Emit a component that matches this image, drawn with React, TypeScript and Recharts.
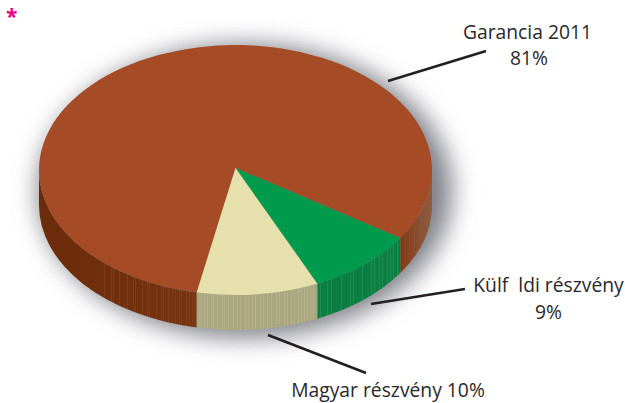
import { PieChart, Pie, Cell } from 'recharts';

const WIDTH = 625;
const HEIGHT = 403;

const names = ['Garancia 2011', 'Külf  ldi részvény', 'Magyar részvény'];
const values = [81, 9, 10];
const topColors = ['#a54c27', '#009a4c', '#e6e0ad'];
const sideFills = ['url(#sideBrown)', 'url(#sideGreen)', 'url(#sideBeige)'];

const pieData = names.map((name, i) => ({ name, value: values[i] }));

// pie geometry, the circle gets squashed into an ellipse in the shapes below
const CX = 235.5;
const CY = 170;
const RADIUS = 196.5;
const SQUASH = 0.636;
const DEPTH = 35;
const APEX_LIFT = 2;
const START_ANGLE = 258.6;

// stripes on the extruded rim
const brownStripes = [104, 111, 113, 119, 127, 133, 135, 142, 147, 149, 156, 161, 163, 168, 172, 175, 179, 181, 186, 189, 192, 194, 405, 409, 414, 418, 423];
const greenStripes = [320, 327, 331, 341, 350, 353, 362, 371, 374, 379, 382, 387, 390, 393, 397];
const beigeStripes = [199, 201, 204, 207, 211, 213, 217, 222, 224, 228, 233, 237, 240, 245, 248, 252, 255, 260, 263, 267, 271, 276, 279, 284, 287, 291, 294, 298, 301, 304, 307, 310, 313];

const point = (cx: number, cy: number, r: number, deg: number) => {
  const a = (deg * Math.PI) / 180;
  return [cx + r * Math.cos(a), cy - r * SQUASH * Math.sin(a)];
};

const TopSlice = (props: any) => {
  const { cx, cy, outerRadius: r, startAngle, endAngle, fill } = props;
  const [x1, y1] = point(cx, cy, r, startAngle);
  const [x2, y2] = point(cx, cy, r, endAngle);
  const large = Math.abs(startAngle - endAngle) > 180 ? 1 : 0;
  const d = `M${cx},${cy - APEX_LIFT} L${x1},${y1} A${r},${r * SQUASH} 0 ${large} 1 ${x2},${y2} Z`;
  return <path d={d} fill={fill} stroke="none" />;
};

// only the part of a slice facing the viewer (lower half of the ellipse) has a rim
const frontRanges = (startAngle: number, endAngle: number) => {
  const hi = Math.max(startAngle, endAngle);
  const lo = Math.min(startAngle, endAngle);
  const out: number[][] = [];
  for (const [a, b] of [[-180, 0], [180, 360]]) {
    const from = Math.max(a, lo);
    const to = Math.min(b, hi);
    if (to > from) out.push([from, to]);
  }
  return out;
};

const SideSlice = (props: any) => {
  const { cx, cy, outerRadius: r, startAngle, endAngle, fill } = props;
  const d = frontRanges(startAngle, endAngle)
    .map(([lo, hi]) => {
      const [x1, y1] = point(cx, cy, r, hi);
      const [x2, y2] = point(cx, cy, r, lo);
      const ry = r * SQUASH;
      return `M${x1},${y1} A${r},${ry} 0 0 1 ${x2},${y2} L${x2},${y2 + DEPTH} A${r},${ry} 0 0 0 ${x1},${y1 + DEPTH} Z`;
    })
    .join(' ');
  return <path d={d} fill={fill} stroke="none" />;
};

// leader line and text block per slice
const labelLayout = [
  { line: [388, 81, 486, 51], lines: [{ x: 527.5, y: 38.5 }, { x: 529, y: 65 }] },
  { line: [371, 304, 465, 289], lines: [{ x: 548.5, y: 292 }, { x: 548.5, y: 318.5 }] },
  { line: [268, 335, 366, 373], lines: [{ x: 388, y: 397 }] },
];

const textStyle = { fontFamily: '"Open Sans", sans-serif', fontSize: 19.3, fill: '#2b2829' };

const renderLabel = (props: any) => {
  const { index, name, value } = props;
  const { line, lines } = labelLayout[index];
  const texts = lines.length === 2 ? [name, `${value}%`] : [`${name} ${value}%`];
  return (
    <g key={name}>
      <line x1={line[0]} y1={line[1]} x2={line[2]} y2={line[3]} stroke="#231f20" strokeWidth={2.6} />
      {texts.map((t, i) => (
        <text key={t} x={lines[i].x} y={lines[i].y} textAnchor="middle" xmlSpace="preserve" {...textStyle}>
          {t}
        </text>
      ))}
    </g>
  );
};

export default function App() {
  return (
    <div style={{ position: 'fixed', left: 0, top: 0, width: WIDTH, height: HEIGHT, background: '#fff' }}>
      <PieChart width={WIDTH} height={HEIGHT} margin={{ top: 0, right: 0, bottom: 0, left: 0 }}>
        <defs>
          <filter id="softShadow" x="-30%" y="-30%" width="160%" height="160%">
            <feGaussianBlur stdDeviation="12" />
          </filter>
          <linearGradient id="brownBase" gradientUnits="userSpaceOnUse" x1="39" y1="0" x2="433" y2="0">
            <stop offset="0" stopColor="#6b2c0b" />
            <stop offset="0.4" stopColor="#76330f" />
            <stop offset="0.92" stopColor="#843a16" />
            <stop offset="0.97" stopColor="#8a5436" />
            <stop offset="1" stopColor="#8d5c43" />
          </linearGradient>
          <pattern id="sideBrown" patternUnits="userSpaceOnUse" x="0" y="0" width={WIDTH} height={HEIGHT}>
            <rect width={WIDTH} height={HEIGHT} fill="url(#brownBase)" />
            {brownStripes.map((x) => (
              <rect key={x} x={x} y={0} width={0.7} height={HEIGHT} fill="#8f4f2a" opacity={0.6} />
            ))}
          </pattern>
          <pattern id="sideGreen" patternUnits="userSpaceOnUse" x="0" y="0" width={WIDTH} height={HEIGHT}>
            <rect width={WIDTH} height={HEIGHT} fill="#0a7f42" />
            {greenStripes.map((x) => (
              <rect key={x} x={x} y={0} width={0.7} height={HEIGHT} fill="#3f9a63" opacity={0.6} />
            ))}
          </pattern>
          <pattern id="sideBeige" patternUnits="userSpaceOnUse" x="0" y="0" width={WIDTH} height={HEIGHT}>
            <rect width={WIDTH} height={HEIGHT} fill="#a9a780" />
            {beigeStripes.map((x) => (
              <rect key={x} x={x} y={0} width={0.8} height={HEIGHT} fill="#bcb994" opacity={0.7} />
            ))}
          </pattern>
        </defs>

        {/* soft shadow under the disc, pushed to the lower right */}
        <ellipse cx={245} cy={191} rx={207} ry={147} fill="#7f8088" filter="url(#softShadow)" />
        <Pie
          data={pieData}
          dataKey="value"
          nameKey="name"
          cx={CX}
          cy={CY}
          outerRadius={RADIUS}
          startAngle={START_ANGLE}
          endAngle={START_ANGLE - 360}
          shape={SideSlice}
          isAnimationActive={false}
        >
          {pieData.map((d, i) => (
            <Cell key={d.name} fill={sideFills[i]} />
          ))}
        </Pie>
        <Pie
          data={pieData}
          dataKey="value"
          nameKey="name"
          cx={CX}
          cy={CY}
          outerRadius={RADIUS}
          startAngle={START_ANGLE}
          endAngle={START_ANGLE - 360}
          shape={TopSlice}
          label={renderLabel}
          labelLine={false}
          isAnimationActive={false}
        >
          {pieData.map((d, i) => (
            <Cell key={d.name} fill={topColors[i]} />
          ))}
        </Pie>
        <text x={6} y={24} fill="#ec008c" fontFamily='"Open Sans", sans-serif' fontSize={21} fontWeight={700}>
          *
        </text>
      </PieChart>
    </div>
  );
}
